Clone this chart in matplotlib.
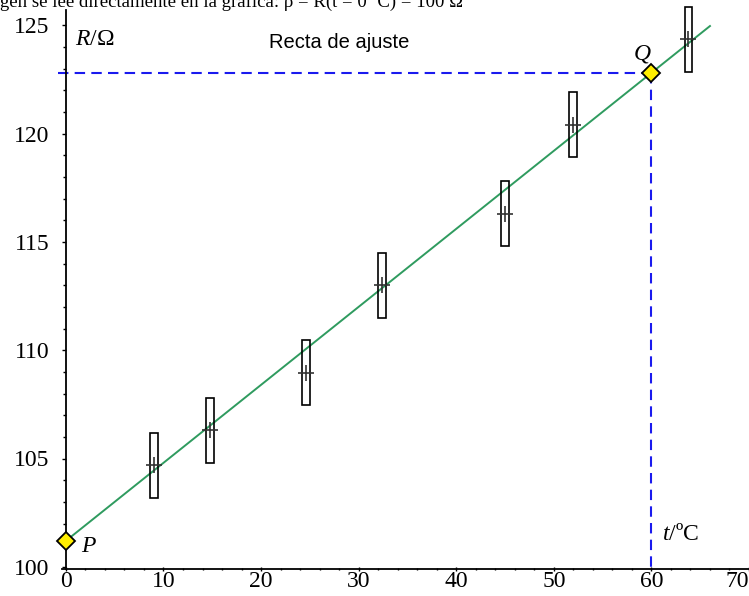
import matplotlib
matplotlib.use('Agg')
import matplotlib.pyplot as plt
from matplotlib.patches import Rectangle
from matplotlib.ticker import MultipleLocator

plt.rcParams['font.family'] = ['Liberation Serif', 'DejaVu Serif']
plt.rcParams['mathtext.fontset'] = 'custom'
plt.rcParams['mathtext.rm'] = 'Liberation Serif'
plt.rcParams['mathtext.it'] = 'Liberation Serif:italic'

# measured points (t in ºC, R in ohm) and their uncertainty boxes
t_data = [9.0, 14.8, 24.6, 32.4, 45.0, 52.0, 63.8]
R_data = [104.7, 106.3, 108.95, 113.0, 116.3, 120.4, 124.35]
dt = 0.4
dR = 1.5

# points on the fitted line
P = (0.0, 101.2)
Q = (60.0, 122.8)
t_fit_end = 66.0

x_ticks = [0, 10, 20, 30, 40, 50, 60, 70]
y_ticks = [100, 105, 110, 115, 120, 125]

fig = plt.figure(figsize=(7.49, 5.96), dpi=100)
ax = fig.add_axes([62 / 749, 27 / 596, 687 / 749, 559 / 596])
ax.set_xlim(-0.4, 69.9)
ax.set_ylim(99.9, 125.7)

for s in ['top', 'right']:
    ax.spines[s].set_visible(False)
ax.spines['left'].set_position(('data', 0))
ax.spines['left'].set_linewidth(1.3)
ax.spines['bottom'].set_linewidth(1.3)

ax.set_xticks(x_ticks)
ax.set_yticks(y_ticks)
ax.xaxis.set_minor_locator(MultipleLocator(2))
ax.yaxis.set_minor_locator(MultipleLocator(1))
ax.tick_params(axis='both', which='major', labelsize=17, length=3, width=1)
ax.tick_params(axis='both', which='minor', length=2, width=1)
ax.tick_params(axis='y', pad=9)
ax.tick_params(axis='x', which='both', direction='inout', pad=0)
ax.get_xticklabels()[-1].set_horizontalalignment('right')

# fitted line
slope = (Q[1] - P[1]) / (Q[0] - P[0])
ax.plot([P[0], t_fit_end], [P[1], P[1] + slope * t_fit_end],
        color='#2f9b5f', lw=1.4, zorder=3)

# dashed guides to Q
ax.plot([-0.8, Q[0]], [Q[1], Q[1]], color='#1a1aee', lw=1.5,
        ls=(0, (5, 3)), clip_on=False, zorder=2)
ax.plot([Q[0], Q[0]], [Q[1], 99.9], color='#1a1aee', lw=1.5,
        ls=(0, (5, 3)), zorder=2)

# uncertainty boxes and crosses
for t, r in zip(t_data, R_data):
    ax.add_patch(Rectangle((t - dt, r - dR), 2 * dt, 2 * dR, fill=False,
                           ec='black', lw=1.2, zorder=4, clip_on=False))
ax.plot(t_data, R_data, '+', color='#333333', ms=11, mew=1.2, zorder=5,
        clip_on=False)

# P and Q markers
ax.plot([P[0], Q[0]], [P[1], Q[1]], 'D', ms=9, mfc='#ffee00', mec='black',
        mew=1.3, zorder=6, clip_on=False)

ax.text(0.9, 124.35, r'$R$/Ω', fontsize=17, va='center', ha='left')
ax.text(28.0, 124.2, 'Recta de ajuste', fontsize=14.5, va='center',
        ha='center', family=['Liberation Sans', 'DejaVu Sans'])
ax.text(59.1, 123.67, '$Q$', fontsize=17, va='center', ha='center')
ax.text(2.4, 100.92, '$P$', fontsize=17, va='center', ha='center')
ax.text(63.0, 101.47, '$t$/ºC', fontsize=17, va='center', ha='center')

fig.text(0.0, 1 - 7 / 596,
         'gen se lee directamente en la gráfica: ρ = R(t = 0 ºC) = 100 Ω',
         fontsize=13.5, ha='left', va='baseline')

fig.savefig('out.png', dpi=100)
